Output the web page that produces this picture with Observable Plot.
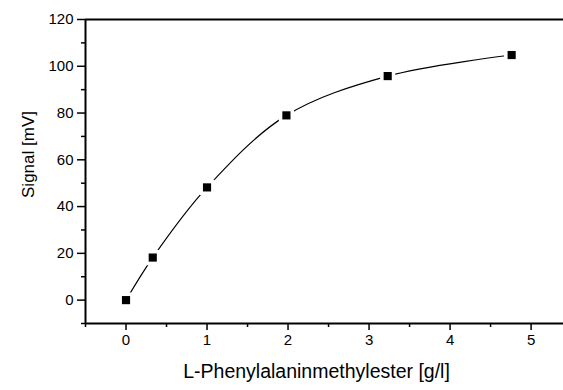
<!DOCTYPE html>
<html>
<head>
<meta charset="utf-8">
<script src="https://cdn.jsdelivr.net/npm/d3@7"></script>
<script src="https://cdn.jsdelivr.net/npm/@observablehq/plot@0.6"></script>
<style>
  body { margin: 0; background: #fff; }
  svg { font-family: "Liberation Sans", Arial, sans-serif; }
</style>
</head>
<body>
<div id="chart"></div>
<script>
const concentration = [0, 0.33, 1.0, 1.98, 3.23, 4.76];
const signal = [0, 18.2, 48.2, 79.0, 95.8, 104.8];
const xTicks = [0, 1, 2, 3, 4, 5];
const xMinorTicks = [-0.5, 0.5, 1.5, 2.5, 3.5, 4.5];
const yTicks = [0, 20, 40, 60, 80, 100, 120];
const yMinorTicks = [-10, 10, 30, 50, 70, 90, 110];
const xLabel = "L-Phenylalaninmethylester [g/l]";
const yLabel = "Signal [mV]";

const data = concentration.map((c, i) => ({c, s: signal[i]}));

const chart = Plot.plot({
  width: 563,
  height: 390,
  marginLeft: 85,
  marginRight: 0,
  marginTop: 19,
  marginBottom: 67,
  style: {fontFamily: "'Liberation Sans', Arial, sans-serif", fontSize: "15px", color: "#000", background: "#fff"},
  x: {domain: [-0.5, 5.4], label: null},
  y: {domain: [-10, 120], label: null},
  marks: [
    Plot.axisX({ticks: xMinorTicks, tickSize: 4, tickFormat: () => "", strokeWidth: 1.5, label: null}),
    Plot.axisX({ticks: xTicks, tickSize: 7, strokeWidth: 1.5, tickPadding: 4, fontSize: 15, tickFormat: d3.format("d"), label: null}),
    Plot.axisY({ticks: yMinorTicks, tickSize: 4, tickFormat: () => "", strokeWidth: 1.5, label: null}),
    Plot.axisY({ticks: yTicks, tickSize: 8, strokeWidth: 1.5, tickPadding: 4, fontSize: 15, tickFormat: d3.format("d"), label: null}),
    Plot.ruleY([120], {strokeWidth: 2}),
    Plot.ruleY([-10], {strokeWidth: 2}),
    Plot.ruleX([-0.5], {strokeWidth: 2}),
    Plot.line(data, {x: "c", y: "s", curve: "catmull-rom", stroke: "black", strokeWidth: 1.2}),
    Plot.dot(data, {x: "c", y: "s", symbol: "square", r: 4.6, fill: "black", stroke: "white", strokeWidth: 7, paintOrder: "stroke"}),
    Plot.text([xLabel], {frameAnchor: "bottom", dy: 54, dx: -8, fontSize: 19.5, text: d => d}),
    Plot.text([yLabel], {frameAnchor: "left", textAnchor: "middle", dx: -57, dy: -17, rotate: -90, fontSize: 17, text: d => d})
  ]
});
document.getElementById("chart").appendChild(chart);
</script>
</body>
</html>
